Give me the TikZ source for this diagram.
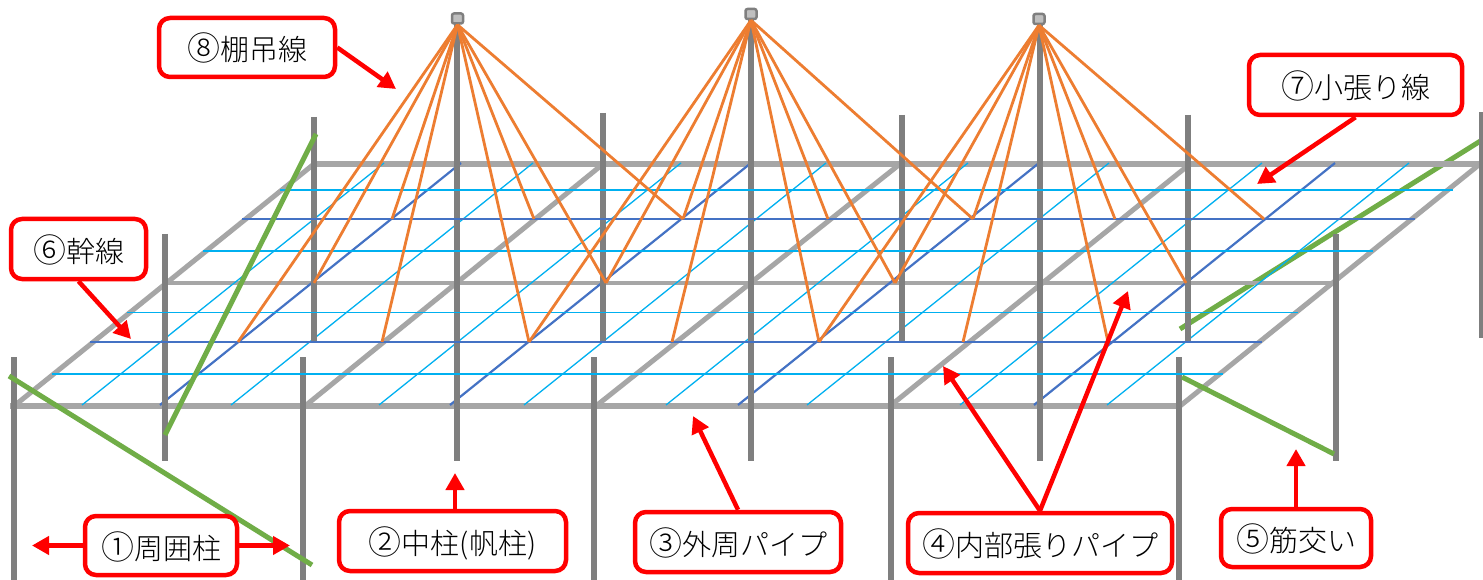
\documentclass[tikz,border=0pt]{standalone}
\usepackage{fontspec}
\setmainfont[UprightFont={* Light}]{Noto Sans CJK JP}
\usetikzlibrary{arrows.meta}
\definecolor{postgray}{HTML}{7F7F7F}
\definecolor{railgray}{HTML}{A6A6A6}
\definecolor{wireorange}{HTML}{ED7D31}
\definecolor{mainblue}{HTML}{4472C4}
\definecolor{smallblue}{HTML}{00B0F0}
\definecolor{bracegreen}{HTML}{70AD47}
\definecolor{calloutred}{HTML}{FF0000}
\newcommand{\cnum}[1]{{\fontsize{33pt}{30pt}\selectfont #1}}
\tikzset{
  post/.style={draw=postgray,line width=6pt},
  rail/.style={draw=railgray,line width=5.5pt},
  midrail/.style={draw=railgray,line width=4.5pt},
  diagrail/.style={draw=railgray,line width=5pt},
  mainline/.style={draw=mainblue,line width=2.2pt},
  smallline/.style={draw=smallblue,line width=1.3pt},
  hanger/.style={draw=wireorange,line width=2.8pt},
  brace/.style={draw=bracegreen,line width=5pt},
  hubcap/.style={draw=postgray,fill=black!25,line width=2.5pt,rounded corners=2pt,minimum width=11pt,minimum height=10pt,inner sep=0pt},
  callout/.style={draw=calloutred,fill=white,line width=4.5pt,rounded corners=11pt,inner sep=0pt,text height=27pt,text depth=0pt,font=\fontsize{29pt}{30pt}\selectfont,text=black},
  pointer/.style={draw=calloutred,line width=4.5pt,-{Triangle[length=17pt,width=18pt]}},
}
\begin{document}
\begin{tikzpicture}[x=1pt,y=-1pt]
\useasboundingbox[fill=white] (0,0) rectangle (1483,580);
% right upper brace lies behind the pipes
\draw[brace] (1180,329) -- (1482,140);
% pipes
\draw[rail] (10,406) -- (1180,406);
\draw[rail] (314,164) -- (1483,164);
\draw[midrail] (164,283) -- (1336,283);
\foreach \a/\b in {14/314,305/603,596/900,890/1190,1180/1480}
  \draw[diagrail] (\a,406) -- (\b,164);
% main lines and small lines, diagonal
\foreach \a in {160,450,738,1034}
  \draw[mainline] (\a,405) -- (\a+301,163);
\foreach \a in {82,231,379,524,666,807,960,1107}
  \draw[smallline] (\a,405) -- (\a+302,163);
% posts
\foreach \x in {14,303,594,891,1179} \draw[post] (\x,357) -- (\x,580);
\foreach \x in {165,1336} \draw[post] (\x,234) -- (\x,461);
\draw[post] (457,20) -- (457,461);
\draw[post] (751,16) -- (751,461);
\draw[post] (1040,20) -- (1040,461);
\draw[post] (314,117) -- (314,342);
\draw[post] (603,113) -- (603,341);
\draw[post] (902,115) -- (902,342);
\draw[post] (1188,115) -- (1188,342);
\draw[post] (1482,112) -- (1482,338);
% horizontal lines
\draw[smallline] (280,190) -- (1453,190);
\draw[smallline] (203,251) -- (1373,251);
\draw[smallline] (127,312.5) -- (1298,312.5);
\draw[smallline] (52,374) -- (1223,374);
\draw[mainline] (242,219) -- (1415,219);
\draw[mainline] (90,342) -- (1262,342);
% post tops and hanging wires
\node[hubcap] (hub1) at (457.5,18.5) {};
\node[hubcap] (hub2) at (751,14) {};
\node[hubcap] (hub3) at (1039,19) {};
\foreach \p in {(238,342),(314,283),(392,219),(382,342),(529,342),(606,283),(534,219),(683,219)}
  \draw[hanger] (hub1.south) -- \p;
\foreach \p in {(529,342),(606,283),(683,219),(672,342),(819,342),(895,283),(828,219),(973,219)}
  \draw[hanger] (hub2.south) -- \p;
\foreach \p in {(819,342),(895,283),(973,219),(963,342),(1108,342),(1186,283),(1115,219),(1264,219)}
  \draw[hanger] (hub3.south) -- \p;
% arrow tips
\coordinate (tip1l) at (32,545.5);
\coordinate (tip1r) at (290,545.5);
\coordinate (tip2) at (455,473);
\coordinate (tip3) at (693,416);
\coordinate (tip4a) at (943,366);
\coordinate (tip4b) at (1128,291);
\coordinate (tip5) at (1296,449);
\coordinate (tip6) at (131,339);
\coordinate (tip7) at (1257,184);
\coordinate (tip8) at (396,89);
% remaining braces
\draw[brace] (316,134) -- (165,435);
\draw[brace] (9,376) -- (312,565);
\draw[brace] (1182,377) -- (1334,454);
% callouts
\node[callout,minimum width=152pt,minimum height=59pt] (box1) at (161,545.5) {\cnum{①}周囲柱};
\node[callout,minimum width=227pt,minimum height=60pt] (box2) at (452.5,541) {\cnum{②}中柱(帆柱)};
\node[callout,minimum width=206pt,minimum height=60pt] (box3) at (738,542) {\cnum{③}外周パイプ};
\node[callout,minimum width=264pt,minimum height=60pt] (box4) at (1040,543) {\cnum{④}内部張りパイプ};
\node[callout,minimum width=150pt,minimum height=58pt] (box5) at (1296,538) {\cnum{⑤}筋交い};
\node[callout,minimum width=135pt,minimum height=60pt] (box6) at (78.5,249) {\cnum{⑥}幹線};
\node[callout,minimum width=213pt,minimum height=60pt] (box7) at (1355.5,85) {\cnum{⑦}小張り線};
\node[callout,minimum width=176pt,minimum height=59pt] (box8) at (247,47.5) {\cnum{⑧}棚吊線};
% pointers
\draw[pointer] (box1.west) -- (tip1l);
\draw[pointer] (box1.east) -- (tip1r);
\draw[pointer] (box2.north -| tip2) -- (tip2);
\draw[pointer] (box3.north) -- (tip3);
\draw[pointer] (box4.north) -- (tip4a);
\draw[pointer] (box4.north) -- (tip4b);
\draw[pointer] (box5.north) -- (tip5);
\draw[pointer] (box6.south) -- (tip6);
\draw[pointer] (box7.south) -- (tip7);
\draw[pointer] (box8.east) -- (tip8);
\end{tikzpicture}
\end{document}
